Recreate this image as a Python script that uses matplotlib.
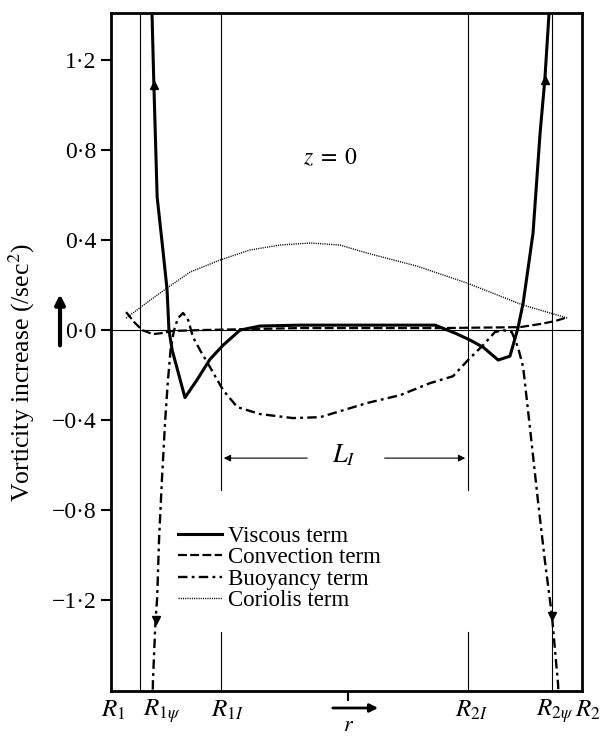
import numpy as np
import matplotlib
matplotlib.use("Agg")
from matplotlib import pyplot as plt

plt.rcParams['font.family'] = ['Liberation Serif', 'DejaVu Serif']
plt.rcParams['mathtext.fontset'] = 'stix'

#? data, r runs from R1 (0) to R2 (1)
r_visc = [0.084, 0.087, 0.091, 0.098, 0.110, 0.119, 0.123, 0.130, 0.157, 0.183, 0.210, 0.238, 0.274,
          0.316, 0.401, 0.507, 0.614, 0.688, 0.730, 0.762, 0.790, 0.822, 0.847, 0.864, 0.875, 0.885,
          0.896, 0.911, 0.921, 0.930, 0.932]
w_visc = [1.53, 1.41, 1.09, 0.59, 0.36, 0.18, 0.0, -0.09, -0.30, -0.22, -0.13, -0.067, 0.0,
          0.018, 0.022, 0.022, 0.022, 0.022, -0.013, -0.044, -0.076, -0.133, -0.116, 0.009, 0.12, 0.267,
          0.431, 0.876, 1.111, 1.409, 1.53]

r_buoy = [0.088, 0.089, 0.0945, 0.098, 0.102, 0.108, 0.115, 0.121, 0.127, 0.134, 0.142, 0.153, 0.164,
          0.174, 0.189, 0.210, 0.238, 0.268, 0.316, 0.386, 0.444, 0.544, 0.614, 0.677, 0.726, 0.758,
          0.790, 0.815, 0.832, 0.851, 0.864, 0.875, 0.890, 0.907, 0.921, 0.936, 0.949, 0.952]
w_buoy = [-1.69, -1.56, -1.29, -1.19, -0.93, -0.67, -0.40, -0.22, -0.076, 0.0, 0.053, 0.076, 0.044,
          -0.031, -0.089, -0.164, -0.267, -0.342, -0.373, -0.391, -0.387, -0.324, -0.289, -0.236, -0.205, -0.133,
          -0.067, -0.009, 0.0, -0.009, -0.076, -0.164, -0.444, -0.769, -1.022, -1.267, -1.569, -1.69]

r_conv = [0.032, 0.049, 0.066, 0.089, 0.110, 0.130, 0.189, 0.401, 0.699, 0.868, 0.911, 0.943, 0.970]
w_conv = [0.08, 0.036, 0.0, -0.018, -0.013, -0.004, 0.0, 0.009, 0.009, 0.013, 0.027, 0.04, 0.058]

r_cor = [0.032, 0.083, 0.119, 0.168, 0.231, 0.295, 0.359, 0.423, 0.486, 0.544, 0.650, 0.756, 0.875, 0.970]
w_cor = [0.053, 0.133, 0.187, 0.258, 0.311, 0.356, 0.378, 0.387, 0.378, 0.342, 0.284, 0.209, 0.111, 0.053]

# arrow heads drawn on the curves
r_up = [0.0915, 0.921]; w_up = [1.09, 1.11]
r_down = [0.0945, 0.936]; w_down = [-1.29, -1.27]

# radial positions of the marked radii
r_marks = {'R1psi': 0.0616, 'R1I': 0.2335, 'R2I': 0.758, 'R2psi': 0.9363}

yticks = [-1.2, -0.8, -0.4, 0.0, 0.4, 0.8, 1.2]
ytick_labels = ['\u22121\u00b72', '\u22120\u00b78', '\u22120\u00b74', '0\u00b70', '0\u00b74', '0\u00b78', '1\u00b72']

fig = plt.figure(figsize=(6.02, 7.36), dpi=100)
ax = fig.add_axes([0.1844, 0.0611, 0.7824, 0.9212])
ax.set_xlim(0, 1)
ax.set_ylim(-1.604, 1.409)

ax.axhline(0, color='k', lw=0.8)
for key in ['R1psi', 'R2psi']:
    ax.axvline(r_marks[key], color='k', lw=0.8)
for key in ['R1I', 'R2I']:
    ax.plot([r_marks[key]] * 2, [-0.711, 1.5], color='k', lw=0.8)
    ax.plot([r_marks[key]] * 2, [-1.342, -1.7], color='k', lw=0.8)

ax.plot(r_visc, w_visc, color='k', lw=2.2, label='Viscous term')
ax.plot(r_conv, w_conv, color='k', lw=1.6, dashes=(4, 1.5), label='Convection term')
ax.plot(r_buoy, w_buoy, color='k', lw=1.7, dashes=(4, 1.8, 1.2, 1.8), label='Buoyancy term')
ax.plot(r_cor, w_cor, color='k', lw=1.0, dashes=(0.8, 0.8), label='Coriolis term')
ax.plot(r_up, w_up, '^', color='k', ms=6)
ax.plot(r_down, w_down, 'v', color='k', ms=6)

# L_I span arrows
ax.annotate('', xy=(r_marks['R1I'], -0.569), xytext=(0.4225, -0.569),
            arrowprops=dict(arrowstyle='-|>', color='k', lw=0.8, mutation_scale=10))
ax.annotate('', xy=(r_marks['R2I'], -0.569), xytext=(0.575, -0.569),
            arrowprops=dict(arrowstyle='-|>', color='k', lw=0.8, mutation_scale=10))
ax.text(0.495, -0.556, '$L_I$', fontsize=19, ha='center', va='center')
ax.text(0.467, 0.764, '$z\\;=\\;0$', fontsize=17, ha='center', va='center')

ax.set_yticks(yticks)
ax.set_yticklabels(ytick_labels, fontsize=17)
ax.set_xticks([0.503])
ax.set_xticklabels([''])
ax.tick_params(axis='both', direction='out', length=7, width=1.5, color='k')
for s in ax.spines.values():
    s.set_linewidth(2)

# labels for the radii under the axis
bottom_labels = ['$R_1$', '$R_{1\\psi}$', '$R_{1I}$', '$R_{2I}$', '$R_{2\\psi}$', '$R_2$']
bottom_pos = [0.004, 0.108, 0.248, 0.766, 0.942, 1.012]
for lab, xp in zip(bottom_labels, bottom_pos):
    ax.text(xp, -0.029, lab, transform=ax.get_xaxis_transform(), fontsize=18,
            ha='center', va='center', clip_on=False)

ax.annotate('', xy=(0.573, -0.025), xytext=(0.465, -0.025), xycoords=ax.get_xaxis_transform(),
            arrowprops=dict(arrowstyle='-|>', color='k', lw=2, mutation_scale=12))
ax.text(0.505, -0.052, '$r$', transform=ax.get_xaxis_transform(), fontsize=16,
        ha='center', va='center')

fig.text(0.0365, 0.494, 'Vorticity increase (/sec$^2$)', rotation=90, fontsize=18.5,
         ha='center', va='center')
fig.patches.append(matplotlib.patches.FancyArrowPatch((0.0997, 0.527), (0.0997, 0.604),
                   transform=fig.transFigure, arrowstyle='-|>', mutation_scale=14,
                   color='k', lw=3))

ax.legend(loc='upper left', bbox_to_anchor=(178 / 602, 1 - 526 / 736), bbox_transform=fig.transFigure,
          frameon=False, fontsize=16.5, handlelength=1.9, handletextpad=0.3, labelspacing=0.01,
          borderpad=0, borderaxespad=0)

fig.savefig('out.png', dpi=100)
